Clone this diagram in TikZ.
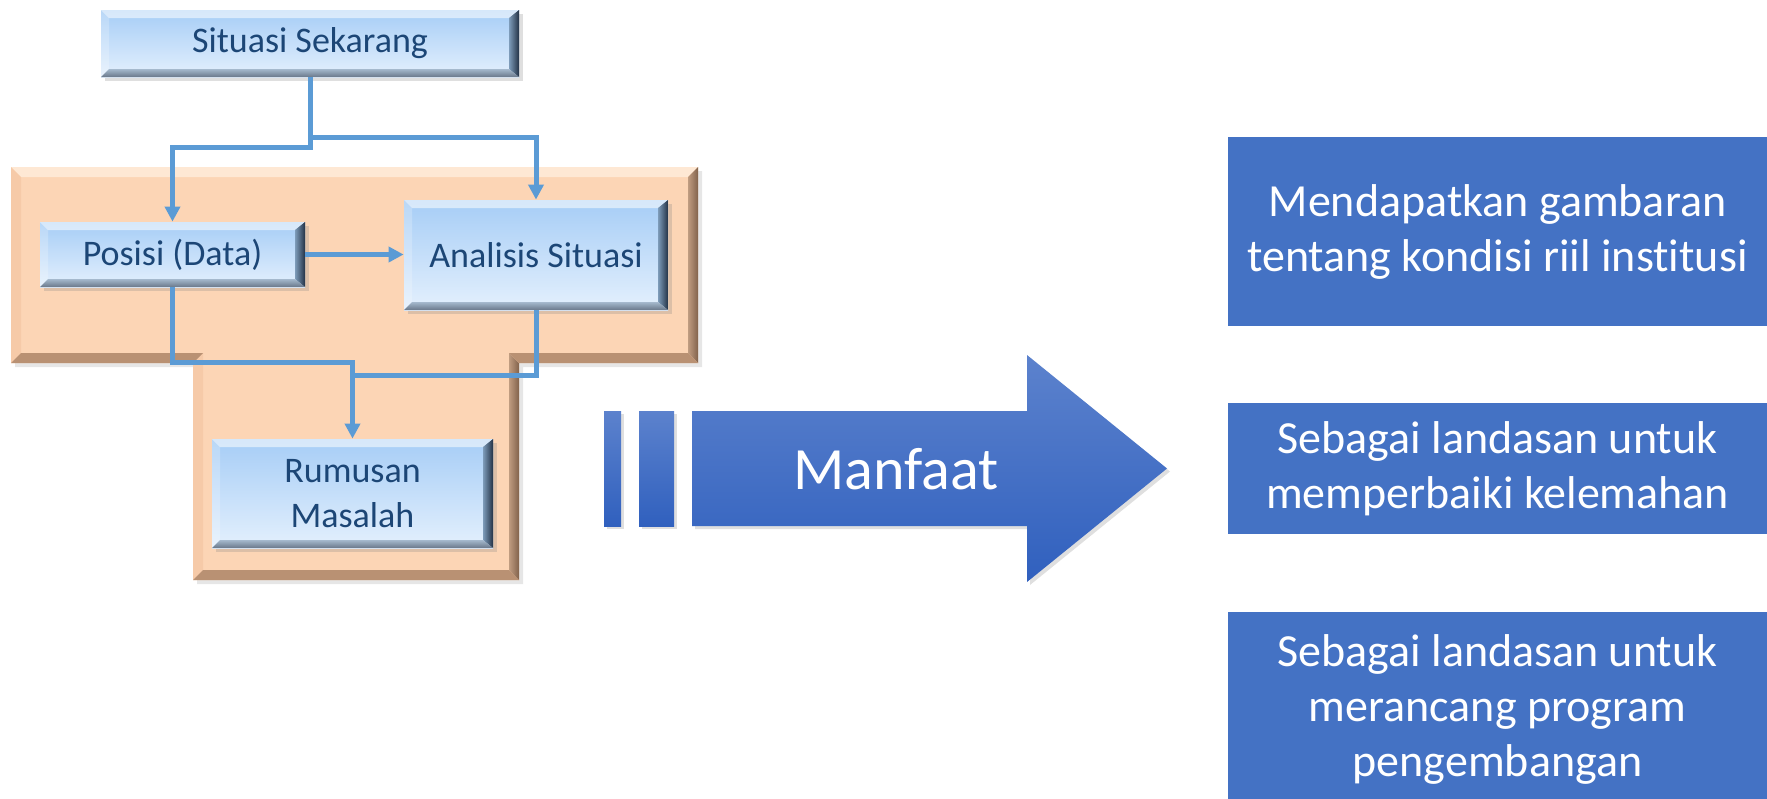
\documentclass[tikz,border=0pt]{standalone}
\usepackage{fontspec}
\setmainfont{Carlito}[Ligatures={NoCommon}]
\usetikzlibrary{calc,shadows,arrows.meta}

\definecolor{txtblue}{RGB}{28,70,118}
\definecolor{lbtop}{RGB}{166,205,246}
\definecolor{lbbot}{RGB}{228,240,253}
\definecolor{bvrin}{RGB}{125,155,185}
\definecolor{bvrout}{RGB}{35,50,70}
\definecolor{bvbin}{RGB}{165,185,205}
\definecolor{bvbout}{RGB}{105,120,138}
\definecolor{peach}{RGB}{252,213,181}
\definecolor{peachtop}{RGB}{254,232,212}
\definecolor{peachleft}{RGB}{246,202,168}
\definecolor{peachright}{RGB}{130,98,75}
\definecolor{peachbot}{RGB}{185,145,115}
\definecolor{connblue}{RGB}{91,155,213}
\definecolor{rbblue}{RGB}{68,114,196}
\definecolor{arrtop}{RGB}{92,130,205}
\definecolor{arrbot}{RGB}{48,96,190}

\newcommand{\bevelstrips}{%
  \path (path picture bounding box.north west) coordinate (bnw)
        (path picture bounding box.north east) coordinate (bne)
        (path picture bounding box.south west) coordinate (bsw)
        (path picture bounding box.south east) coordinate (bse);
  \fill[white,opacity=.55] (bnw) -- (bne) -- ($(bne)+(-4pt,-4pt)$) -- ($(bnw)+(4pt,-4pt)$) -- cycle;
  \fill[white,opacity=.22] (bnw) -- ($(bnw)+(4pt,-4pt)$) -- ($(bsw)+(4pt,4pt)$) -- (bsw) -- cycle;
  \shade[left color=bvrin,right color=bvrout] (bne) -- (bse) -- ($(bse)+(-5pt,4pt)$) -- ($(bne)+(-5pt,-4pt)$) -- cycle;
  \shade[top color=bvbin,bottom color=bvbout] (bsw) -- (bse) -- ($(bse)+(-5pt,4pt)$) -- ($(bsw)+(4pt,4pt)$) -- cycle;
}

\tikzset{
  lbox/.style={rectangle, inner sep=0pt, align=center, text=txtblue,
    font=\fontsize{18}{22.5}\selectfont, top color=lbtop, bottom color=lbbot,
    drop shadow={shadow xshift=2pt, shadow yshift=-2pt, opacity=.25},
    path picture={\bevelstrips}},
  rbox/.style={rectangle, fill=rbblue, text=white, inner sep=0pt, align=center,
    font=\fontsize{23}{27.5}\selectfont, minimum width=269.5pt},
  conn/.style={draw=connblue, line width=2.5pt},
  arr/.style={conn, -{Triangle[width=7.5pt,length=7.5pt]}},
  arrowshade/.style={top color=arrtop, bottom color=arrbot,
    drop shadow={shadow xshift=1.5pt, shadow yshift=-1.5pt, opacity=.25}},
}

\begin{document}
\begin{tikzpicture}[x=0.5pt,y=-0.5pt]
\clip (0,0) rectangle (1767,798);

% peach T-shaped panel
\fill[peach, drop shadow={shadow xshift=2pt, shadow yshift=-2pt, opacity=.2}]
  (11,167) -- (698,167) -- (698,363) -- (519,363) -- (519,580) -- (193,580) -- (193,363) -- (11,363) -- cycle;
\fill[peachtop]   (11,167) -- (698,167) -- (688,177) -- (21,177) -- cycle;
\fill[peachleft]  (11,363) -- (11,167) -- (21,177) -- (21,353) -- cycle;
\fill[peachleft]  (193,580) -- (193,363) -- (203,353) -- (203,570) -- cycle;
\shade[left color=peachright!50!peach, right color=peachright] (698,167) -- (698,363) -- (688,353) -- (688,177) -- cycle;
\shade[left color=peachright!50!peach, right color=peachright] (519,363) -- (519,580) -- (509,570) -- (509,353) -- cycle;
\fill[peachbot]   (698,363) -- (519,363) -- (509,353) -- (688,353) -- cycle;
\fill[peachbot]   (519,580) -- (193,580) -- (203,570) -- (509,570) -- cycle;
\fill[peachbot]   (193,363) -- (11,363) -- (21,353) -- (203,353) -- cycle;

% light blue boxes
\node[lbox, minimum width=209pt, minimum height=33.5pt] (sit) at (310,43.5) {Situasi Sekarang};
\node[lbox, minimum width=132.5pt, minimum height=32.5pt] (pos) at (172.5,254.5) {Posisi (Data)};
\node[lbox, minimum width=132pt, minimum height=55pt] (ana) at (536,255) {Analisis Situasi};
\node[lbox, minimum width=140.5pt, minimum height=54.5pt] (rum) at (352.5,493.5) {Rumusan\\Masalah};

% connectors
\draw[arr] (sit.south) -- (sit.south |- 0,147) -| (pos.north);
\draw[arr] (sit.south) -- (sit.south |- 0,137) -| (ana.north);
\draw[arr] (pos.east) -- (pos.east -| ana.west);
\draw[arr] (pos.south) |- (rum.north |- 0,362) -- (rum.north);
\draw[conn] (ana.south) |- (rum.north |- 0,375);

% Manfaat arrow
\path[arrowshade] (604,411) rectangle (621,526);
\path[arrowshade] (639,411) rectangle (674,526);
\path[arrowshade] (692,411) -- (1027,411) -- (1027,355) -- (1167,468.5) -- (1027,582) -- (1027,526) -- (692,526) -- cycle;
\node[text=white, font=\fontsize{30}{36}\selectfont] (manfaat) at (896,469) {Manfaat};

% right boxes
\node[rbox, minimum height=94.5pt] (b1) at (1497.5,231.5) {Mendapatkan gambaran\\tentang kondisi riil institusi};
\node[rbox, minimum height=65.5pt] (b2) at (1497.5,468.5) {Sebagai landasan untuk\\memperbaiki kelemahan};
\node[rbox, minimum height=97pt] (b3) at (1497.5,709) {Sebagai landasan untuk\\merancang program\\pengembangan};
\end{tikzpicture}
\end{document}
